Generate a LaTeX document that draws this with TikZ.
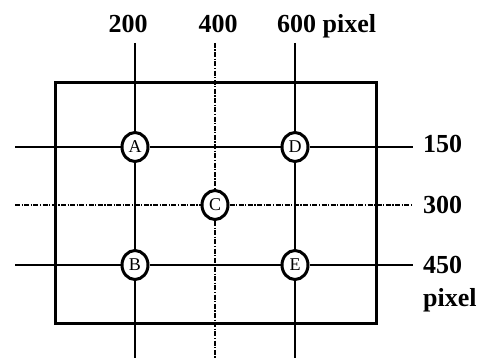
\documentclass[tikz,border=0pt]{standalone}
\usepackage{fontspec}
\setmainfont{Liberation Serif}
\usetikzlibrary{shapes.geometric,positioning}

\begin{document}
\begin{tikzpicture}[x=1pt, y=-1pt,
    spot/.style={ellipse, draw, line width=3pt, minimum width=26pt, minimum height=29pt,
        inner sep=0pt, fill=white, font=\fontsize{18}{18}\selectfont},
    gridline/.style={line width=1.3pt},
    axisline/.style={line width=1.1pt, dash pattern=on 5pt off 1.5pt on 1.2pt off 1.5pt},
    lab/.style={font=\fontsize{26}{26}\selectfont\bfseries, inner sep=0pt}]
    \useasboundingbox (0,0) rectangle (489,358);

    % 测量点
    \node[spot] (A) at (135,147) {A};
    \node[spot] (B) at (135,265) {B};
    \node[spot] (C) at (215,205) {C};
    \node[spot] (D) at (295,147) {D};
    \node[spot] (E) at (295,265) {E};

    % 线的端点
    \coordinate (top) at (0,43);
    \coordinate (bot) at (0,358);
    \coordinate (lft) at (15,0);
    \coordinate (rgt) at (413,0);

    % 网格线
    \draw[gridline] (A |- top) -- (A) -- (B) -- (B |- bot);
    \draw[gridline] (D |- top) -- (D) -- (E) -- (E |- bot);
    \draw[gridline] (lft |- A) -- (A) -- (D) -- (rgt |- D);
    \draw[gridline] (lft |- B) -- (B) -- (E) -- (rgt |- E);
    \draw[axisline] (C |- top) -- (C) -- (C |- bot);
    \draw[axisline] (lft |- C) -- (C) -- (rgt |- C);

    % 画面边框
    \draw[line width=3pt] (55,83) rectangle (376,323);

    % 坐标标注
    \node[lab, anchor=base] (x200) at (128,33) {200};
    \node[lab, anchor=base] (x400) at (218,33) {400};
    \node[lab, anchor=base west] (x600) at (277,33) {600 pixel};
    \node[lab, anchor=base west] (y150) at (423,153) {150};
    \node[lab, anchor=base west] (y300) at (423,213) {300};
    \node[lab, anchor=base west] (y450) at (423,273) {450};
    \node[lab, anchor=base west] (ypx) at (423,306) {pixel};
\end{tikzpicture}
\end{document}
